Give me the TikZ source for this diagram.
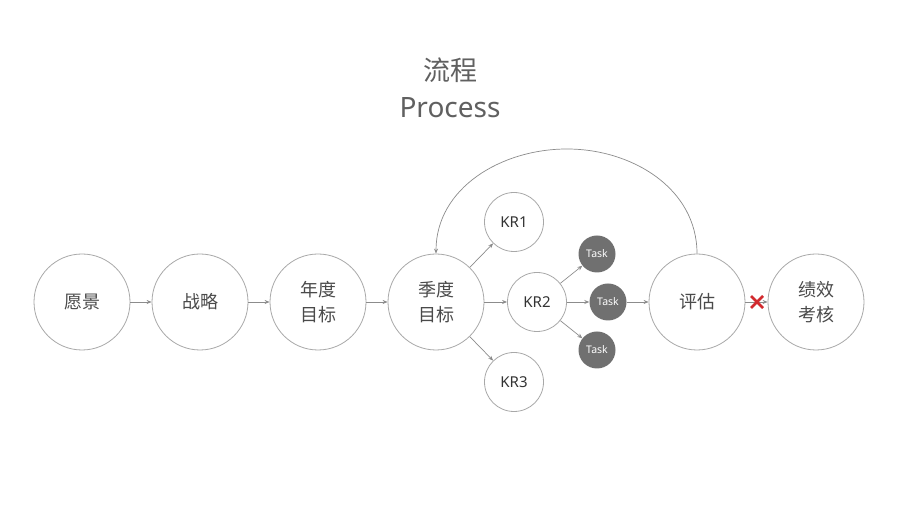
\documentclass[tikz,border=0pt]{standalone}
\usepackage{fontspec}
\setmainfont{Noto Sans}
\newfontfamily\cjk{Noto Sans CJK SC}
\usetikzlibrary{arrows.meta}
\definecolor{ringgray}{HTML}{A8A8A8}
\definecolor{linegray}{HTML}{8C8C8C}
\definecolor{textgray}{HTML}{4A4A4A}
\definecolor{titlegray}{HTML}{606060}
\definecolor{taskgray}{HTML}{707070}
\definecolor{crossred}{HTML}{D22A2E}
\tikzset{
 stage/.style={circle,draw=ringgray,line width=.8pt,fill=white,minimum size=96pt,inner sep=0,align=center,text=textgray,font=\cjk\fontsize{18}{25}\selectfont},
 krnode/.style={circle,draw=ringgray,line width=.8pt,fill=white,minimum size=59pt,inner sep=0,text=black!80,font=\fontsize{15}{16}\selectfont},
 task/.style={circle,fill=taskgray,minimum size=37pt,inner sep=0,text=white,font=\fontsize{10.5}{12}\selectfont},
 flow/.style={draw=linegray,line width=.7pt,-{Stealth[length=5pt,width=4pt]}},
 cross/.style={draw=crossred,line width=2.6pt}
}

\begin{document}
\begin{tikzpicture}[x=1pt,y=1pt]
\path[use as bounding box,fill=white] (0,0) rectangle (900,506);
\node[text=titlegray,font=\cjk\fontsize{27}{30}\selectfont] (title) at (450,436) {流程};
\node[text=titlegray,font=\fontsize{28}{30}\selectfont,anchor=base] (subtitle) at (450,388) {Process};
% main chain
\node[stage] (yj) at (82,204) {愿景};
\node[stage] (zl) at (200,204) {战略};
\node[stage] (nd) at (318,204) {年度\\目标};
\node[stage] (jd) at (436,204) {季度\\目标};
\node[stage] (pg) at (697,204) {评估};
\node[stage] (jx) at (816,204) {绩效\\考核};
% key results and tasks
\node[krnode] (kr1) at (514,284) {KR1};
\node[krnode] (kr2) at (537,204) {KR2};
\node[krnode] (kr3) at (514,124) {KR3};
\node[task] (t1) at (597,252) {Task};
\node[task] (t2) at (608,204) {Task};
\node[task] (t3) at (597,156) {Task};
\draw[flow] (yj) -- (zl);
\draw[flow] (zl) -- (nd);
\draw[flow] (nd) -- (jd);
\draw[flow] (jd) -- (kr1);
\draw[flow] (jd) -- (kr2);
\draw[flow] (jd) -- (kr3);
\draw[flow] (kr2) -- (t1);
\draw[flow] (kr2) -- (t2);
\draw[flow] (kr2) -- (t3);
\draw[flow] (t2) -- (pg);
\draw[flow] (pg) -- (jx);
% feedback loop
\coordinate (loop) at (567,357);
\draw[flow] (pg.north) to[out=90,in=0] (loop) to[out=180,in=90] (jd.north);
\draw[cross] (751,198) -- (763,210) (751,210) -- (763,198);
\end{tikzpicture}
\end{document}
